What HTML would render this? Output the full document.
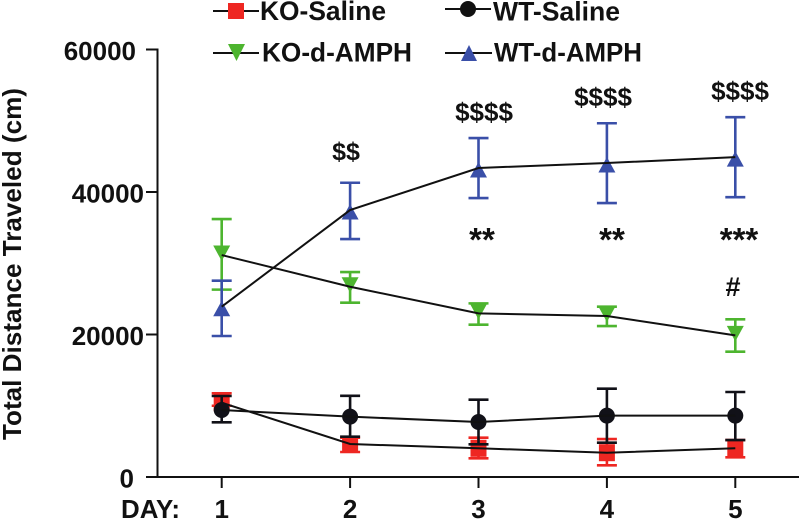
<!DOCTYPE html>
<html>
<head>
<meta charset="utf-8">
<style>
html,body{margin:0;padding:0;background:#fff;width:800px;height:520px;overflow:hidden}
svg{display:block}
text{font-family:"Liberation Sans",sans-serif;font-weight:700;fill:#111}
</style>
</head>
<body>
<svg id="chart" width="800" height="520" viewBox="0 0 800 520" xmlns="http://www.w3.org/2000/svg">
  <text transform="translate(21,440) rotate(-90)" font-size="26" textLength="352" lengthAdjust="spacingAndGlyphs">Total Distance Traveled (cm)</text>
  <text x="121" y="518" font-size="26" textLength="59" lengthAdjust="spacingAndGlyphs">DAY:</text>
  <g id="axes"></g>
  <g id="series"></g>
  <g font-size="26">
    <text x="346" y="160" text-anchor="middle" font-size="25">$$</text>
    <text x="484" y="121" text-anchor="middle" font-size="26">$$$$</text>
    <text x="603" y="106" text-anchor="middle" font-size="26">$$$$</text>
    <text x="740" y="100" text-anchor="middle" font-size="26">$$$$</text>
    <text x="482" y="251" text-anchor="middle" font-size="33">**</text>
    <text x="612" y="251" text-anchor="middle" font-size="33">**</text>
    <text x="739" y="251" text-anchor="middle" font-size="33">***</text>
    <text x="733" y="296" text-anchor="middle" font-size="27">#</text>
  </g>
  <g>
    <g>
      <line x1="213" x2="259" y1="11" y2="11" stroke="#111" stroke-width="2"/>
      <rect x="228" y="3" width="16" height="16" fill="#ee2722"/>
      <text x="260" y="20" font-size="26.4" textLength="126" lengthAdjust="spacingAndGlyphs">KO-Saline</text>
    </g>
    <g>
      <line x1="445" x2="491" y1="9" y2="9" stroke="#111" stroke-width="2"/>
      <circle cx="468" cy="9" r="8" fill="#111"/>
      <text x="493" y="20.5" font-size="26.4" textLength="127" lengthAdjust="spacingAndGlyphs">WT-Saline</text>
    </g>
    <g>
      <line x1="213" x2="259" y1="53" y2="53" stroke="#111" stroke-width="2"/>
      <polygon points="228,44 245,44 236.5,61" fill="#4db52f"/>
      <text x="262" y="61.5" font-size="26.4" textLength="150" lengthAdjust="spacingAndGlyphs">KO-d-AMPH</text>
    </g>
    <g>
      <line x1="445" x2="492" y1="53" y2="53" stroke="#111" stroke-width="2"/>
      <polygon points="461,61 477,61 469,45" fill="#3a4fa8"/>
      <text x="494" y="61.5" font-size="26.4" textLength="148" lengthAdjust="spacingAndGlyphs">WT-d-AMPH</text>
    </g>
  </g>
</svg>
<script>
var days = ['1', '2', '3', '4', '5'];
var yTicks = [0, 20000, 40000, 60000];

var koSalineMean = [10430, 4630, 4030, 3410, 4030];
var koSalineUpper = [11750, 5520, 5520, 5330, 5190];
var koSalineLower = [10000, 3510, 2620, 1640, 2760];

var wtSalineMean = [9400, 8470, 7720, 8610, 8610];
var wtSalineUpper = [11370, 11400, 10850, 12400, 11930];
var wtSalineLower = [7670, 5660, 4590, 4820, 5190];

var koAmphMean = [31150, 26700, 22970, 22600, 19880];
var koAmphUpper = [36200, 28770, 24370, 23900, 22130];
var koAmphLower = [26300, 24460, 21380, 21190, 17590];

var wtAmphMean = [23900, 37470, 43370, 44070, 44900];
var wtAmphUpper = [27550, 41300, 47570, 49650, 50500];
var wtAmphLower = [19790, 33400, 39150, 38450, 39270];

var NS = 'http://www.w3.org/2000/svg';
function xScale(i) { return 221.7 + i * 128.4; }
function yScale(v) { return 477 - v * 0.007125; }
function tickLabelRight(t) { return t === 60000 ? 136 : (t === 0 ? 134 : 144); }
function make(parent, tag, attrs) {
  var el = document.createElementNS(NS, tag);
  for (var k in attrs) el.setAttribute(k, attrs[k]);
  parent.appendChild(el);
  return el;
}

var axes = document.getElementById('axes');
var yAxis = make(axes, 'line', {x1: 157.5, x2: 157.5, y1: yScale(60000) - 1, y2: 478, stroke: '#111', 'stroke-width': 2});


var xAxis = make(axes, 'line', {x1: 146, x2: 799, y1: 477, y2: 477, stroke: '#111', 'stroke-width': 2});



yTicks.forEach(function (t) {
  var y = yScale(t);
  var mark = make(axes, 'line', {x1: 146, x2: 157, y1: y, y2: y, stroke: '#111', 'stroke-width': 2});
  
  
  var label = make(axes, 'text', {x: tickLabelRight(t), y: y + 10.5, 'text-anchor': 'end', 'font-size': 26});
  label.textContent = String(t);
  
  
});

days.forEach(function (d, i) {
  var x = xScale(i);
  var mark = make(axes, 'line', {x1: x, x2: x, y1: 477, y2: 488, stroke: '#111', 'stroke-width': 2});
  
  
  var label = make(axes, 'text', {x: x, y: 518, 'text-anchor': 'middle', 'font-size': 26});
  label.textContent = d;
  
  
});

function marker(g, kind, x, y, color) {
  if (kind === 'square') make(g, 'rect', {x: x - 8, y: y - 8.5, width: 16, height: 17, fill: color});
  if (kind === 'circle') make(g, 'circle', {cx: x, cy: y, r: 8, fill: color});
  if (kind === 'up') make(g, 'polygon', {points: (x - 8.5) + ',' + (y + 9.5) + ' ' + (x + 8.5) + ',' + (y + 9.5) + ' ' + x + ',' + (y - 6), fill: color});
  if (kind === 'down') make(g, 'polygon', {points: (x - 8.5) + ',' + (y - 9.5) + ' ' + (x + 8.5) + ',' + (y - 9.5) + ' ' + x + ',' + (y + 6), fill: color});
}

function drawSeries(name, mean, upper, lower, color, kind) {
  var root = document.getElementById('series');
  var g = make(root, 'g', {});
  
  
  mean.forEach(function (v, i) {
    var x = xScale(i), yu = yScale(upper[i]), yl = yScale(lower[i]);
    var err = make(g, 'path', {
      d: 'M' + x + ' ' + yu + 'V' + yl + 'M' + (x - 10) + ' ' + yu + 'H' + (x + 10) + 'M' + (x - 10) + ' ' + yl + 'H' + (x + 10),
      stroke: color, 'stroke-width': 2.6, fill: 'none'
    });
    
    
    marker(g, kind, x, yScale(v), color);
  });
  var pts = mean.map(function (v, i) { return xScale(i) + ',' + yScale(v); }).join(' ');
  return {g: g, pts: pts};
}

var drawn = [
  drawSeries('ko-saline', koSalineMean, koSalineUpper, koSalineLower, '#ee2722', 'square'),
  drawSeries('wt-saline', wtSalineMean, wtSalineUpper, wtSalineLower, '#111118', 'circle'),
  drawSeries('ko-d-amph', koAmphMean, koAmphUpper, koAmphLower, '#4db52f', 'down'),
  drawSeries('wt-d-amph', wtAmphMean, wtAmphUpper, wtAmphLower, '#3a4fa8', 'up')
];
drawn.forEach(function (s) {
  var line = make(s.g, 'polyline', {points: s.pts, fill: 'none', stroke: '#111', 'stroke-width': 2});
  
  
});
</script>
</body>
</html>
